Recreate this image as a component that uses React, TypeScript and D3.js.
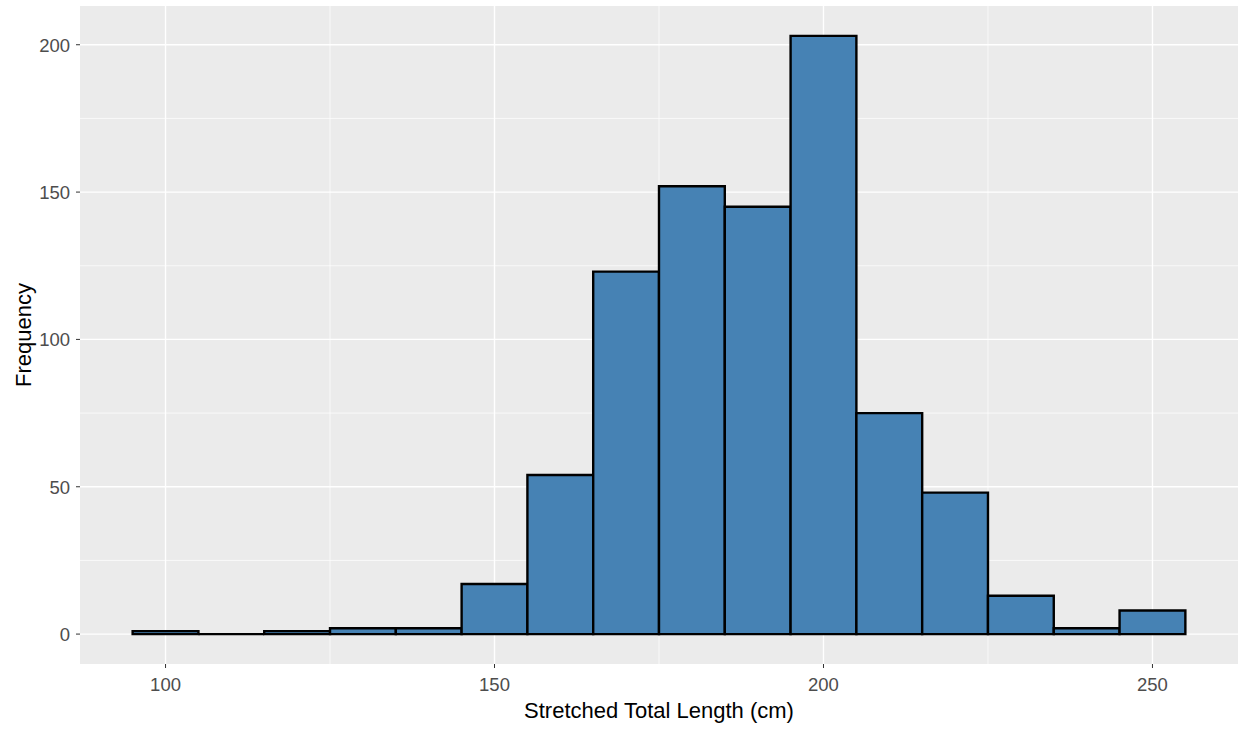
import React, { useEffect, useRef } from 'react';
import * as d3 from 'd3';

// histogram bins (cm), width 10
const binStarts = [95, 105, 115, 125, 135, 145, 155, 165, 175, 185, 195, 205, 215, 225, 235, 245];
const counts = [1, 0, 1, 2, 2, 17, 54, 123, 152, 145, 203, 75, 48, 13, 2, 8];
const xTicks = [100, 150, 200, 250];
const yTicks = [0, 50, 100, 150, 200];
const binWidth = 10;

const W = 1238;
const H = 729;

export default function App() {
  const ref = useRef<SVGSVGElement>(null);

  useEffect(() => {
    const svg = d3.select(ref.current);
    svg.selectAll('*').remove();

    const left = 80, right = 1238, top = 6, bottom = 664;

    const xMin = binStarts[0], xMax = binStarts[binStarts.length - 1] + binWidth;
    const xPad = (xMax - xMin) * 0.05;
    const x = d3.scaleLinear().domain([xMin - xPad, xMax + xPad]).range([left, right]);

    const yMax = d3.max(counts)!;
    const yPad = yMax * 0.05;
    const y = d3.scaleLinear().domain([-yPad, yMax + yPad]).range([bottom, top]);

    // panel background
    svg.append('rect')
      .attr('x', left).attr('y', top)
      .attr('width', right - left).attr('height', bottom - top)
      .attr('fill', '#EBEBEB');

    const minorX = xTicks.slice(0, -1).map((d, i) => (d + xTicks[i + 1]) / 2);
    const minorY = yTicks.slice(0, -1).map((d, i) => (d + yTicks[i + 1]) / 2);

    const grid = svg.append('g');
    grid.selectAll('.mx').data(minorX).enter().append('line')
      .attr('x1', d => x(d)).attr('x2', d => x(d))
      .attr('y1', top).attr('y2', bottom)
      .attr('stroke', '#fff').attr('stroke-width', 0.7);
    grid.selectAll('.my').data(minorY).enter().append('line')
      .attr('y1', d => y(d)).attr('y2', d => y(d))
      .attr('x1', left).attr('x2', right)
      .attr('stroke', '#fff').attr('stroke-width', 0.7);
    grid.selectAll('.Mx').data(xTicks).enter().append('line')
      .attr('x1', d => x(d)).attr('x2', d => x(d))
      .attr('y1', top).attr('y2', bottom)
      .attr('stroke', '#fff').attr('stroke-width', 1.4);
    grid.selectAll('.My').data(yTicks).enter().append('line')
      .attr('y1', d => y(d)).attr('y2', d => y(d))
      .attr('x1', left).attr('x2', right)
      .attr('stroke', '#fff').attr('stroke-width', 1.4);

    // bars (paths so that empty bins still show their outline)
    svg.append('g').selectAll('path').data(counts).enter().append('path')
      .attr('d', (d, i) => {
        const x0 = x(binStarts[i]), x1 = x(binStarts[i] + binWidth);
        const y0 = y(0), y1 = y(d);
        return `M${x0},${y0}H${x1}V${y1}H${x0}Z`;
      })
      .attr('fill', '#4682B4')
      .attr('stroke', '#000')
      .attr('stroke-width', 2.4)
      .attr('stroke-linejoin', 'miter');

    // axes
    const font = 'Liberation Sans, Arial, sans-serif';
    const xa = svg.append('g');
    xa.selectAll('line').data(xTicks).enter().append('line')
      .attr('x1', d => x(d)).attr('x2', d => x(d))
      .attr('y1', bottom).attr('y2', bottom + 4)
      .attr('stroke', '#333').attr('stroke-width', 1);
    xa.selectAll('text').data(xTicks).enter().append('text')
      .attr('x', d => x(d)).attr('y', bottom + 27)
      .attr('text-anchor', 'middle')
      .attr('font-family', font).attr('font-size', 18.5)
      .attr('fill', '#4D4D4D')
      .text(d => d);

    const ya = svg.append('g');
    ya.selectAll('line').data(yTicks).enter().append('line')
      .attr('y1', d => y(d)).attr('y2', d => y(d))
      .attr('x1', left - 4).attr('x2', left)
      .attr('stroke', '#333').attr('stroke-width', 1);
    ya.selectAll('text').data(yTicks).enter().append('text')
      .attr('x', left - 10).attr('y', d => y(d) + 7)
      .attr('text-anchor', 'end')
      .attr('font-family', font).attr('font-size', 18.5)
      .attr('fill', '#4D4D4D')
      .text(d => d);

    svg.append('text')
      .attr('x', (left + right) / 2).attr('y', 718)
      .attr('text-anchor', 'middle')
      .attr('font-family', font).attr('font-size', 22)
      .attr('fill', '#000')
      .text('Stretched Total Length (cm)');

    svg.append('text')
      .attr('transform', `translate(31,${(top + bottom) / 2}) rotate(-90)`)
      .attr('text-anchor', 'middle')
      .attr('font-family', font).attr('font-size', 22)
      .attr('fill', '#000')
      .text('Frequency');
  }, []);

  return (
    <svg ref={ref} width={W} height={H}
      style={{ position: 'absolute', left: 0, top: 0, background: '#fff' }} />
  );
}
